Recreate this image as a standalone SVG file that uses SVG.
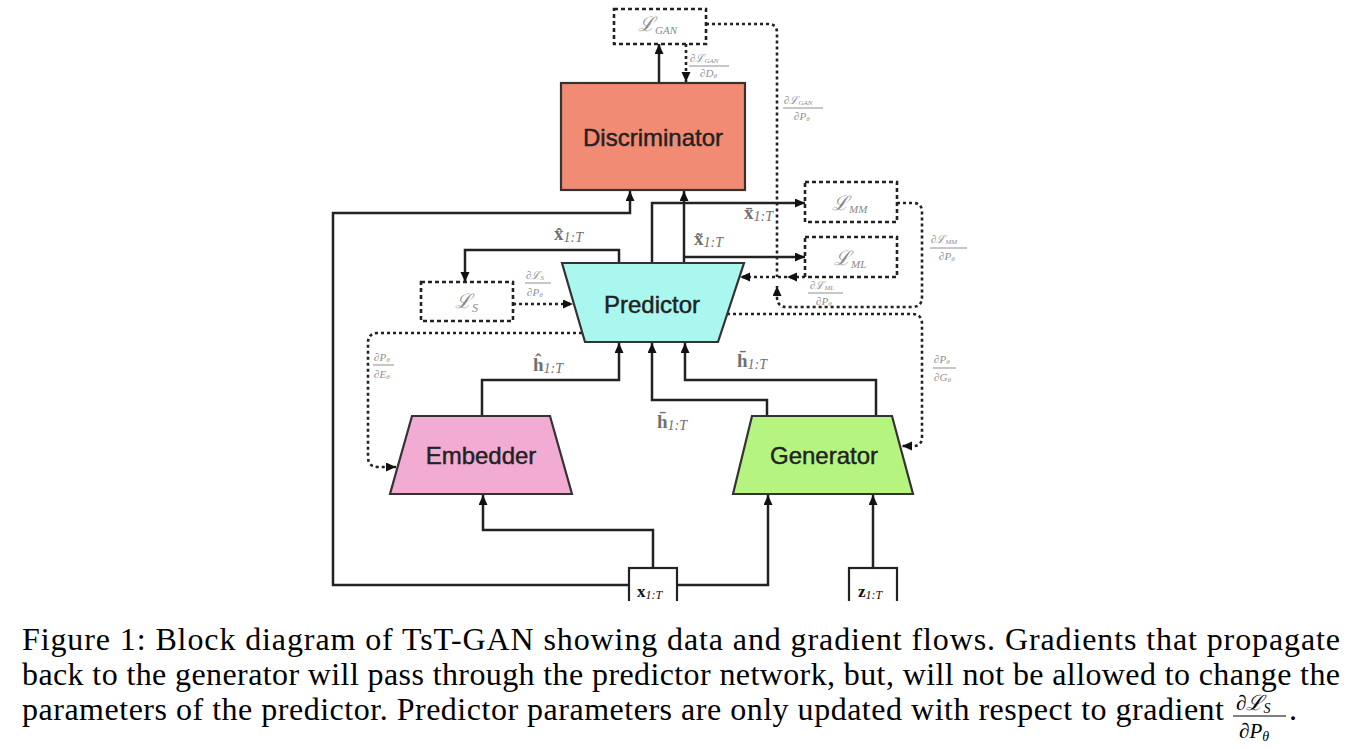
<svg xmlns="http://www.w3.org/2000/svg" width="1359" height="749" viewBox="0 0 1359 749">
<style>
.node{stroke:#333;stroke-width:2.2}
.nt{font-family:"Liberation Sans",Arial,sans-serif;font-size:24px;fill:#222;stroke:#222;stroke-width:0.45;text-anchor:middle}
.ln{fill:none;stroke:#222;stroke-width:2.5}
.dt{fill:none;stroke:#222;stroke-width:2.6;stroke-dasharray:3 3}
.db{fill:#fff;stroke:#222;stroke-width:2.6;stroke-dasharray:4 3}
.lt{font-family:"Liberation Serif","DejaVu Serif",serif;fill:#8a8a8a;font-style:italic}
.lbl{font-family:"Liberation Serif","DejaVu Serif",serif;fill:#707070;font-size:19px}
.fr{font-family:"Liberation Serif","DejaVu Serif",serif;fill:#8f8f8f;font-style:italic;font-size:11px}
.bar{stroke:#8f8f8f;stroke-width:1}
.cap{font-family:"Liberation Serif","Times New Roman",serif;font-size:32px;fill:#000}
.capm{font-family:"Liberation Serif","DejaVu Serif",serif;fill:#000}
</style>
<defs>
<marker id="ah" markerUnits="userSpaceOnUse" markerWidth="12" markerHeight="10" refX="10" refY="4.5" orient="auto">
<path d="M0,0 L10,4.5 L0,9 z" fill="#111"/>
</marker>
</defs>
<rect width="1359" height="749" fill="#fff"/>

<g id="connectors">
<path class="ln" d="M629,585 H333 V213 H630 V191" marker-end="url(#ah)"/>
<path class="ln" d="M677,585 H768 V495" marker-end="url(#ah)"/>
<path class="ln" d="M653,568 V530 H483 V495" marker-end="url(#ah)"/>
<path class="ln" d="M873,568 V495" marker-end="url(#ah)"/>
<path class="ln" d="M482,416 V380 H619 V343" marker-end="url(#ah)"/>
<path class="ln" d="M767,416 V400 H652 V343" marker-end="url(#ah)"/>
<path class="ln" d="M876,416 V380 H685 V343" marker-end="url(#ah)"/>
<path class="ln" d="M619,263 V250 H465 V282" marker-end="url(#ah)"/>
<path class="ln" d="M652,263 V203 H805" marker-end="url(#ah)"/>
<path class="ln" d="M684,263 V191" marker-end="url(#ah)"/>
<path class="ln" d="M684,257 H805" marker-end="url(#ah)"/>
<path class="ln" d="M659,83 V44" marker-end="url(#ah)"/>
<path class="dt" d="M686,44 V82" marker-end="url(#ah)"/>
<path class="dt" d="M706,24 H768 Q777,24 777,33 V277"/>
<path class="dt" d="M805,277 H787" marker-end="url(#ah)"/>
<path class="dt" d="M787,277 H740" marker-end="url(#ah)"/>
<path class="dt" d="M897,203 H913 Q922,203 922,212 V297 Q922,307 912,307 H787 Q777,307 777,297 V286" marker-end="url(#ah)"/>
<path class="dt" d="M727,314 H912 Q922,314 922,324 V437 Q922,446 913,446 H902" marker-end="url(#ah)"/>
<path class="dt" d="M582,333 H378 Q368,333 368,343 V457 Q368,467 378,467 H396" marker-end="url(#ah)"/>
<path class="dt" d="M513,304 H573" marker-end="url(#ah)"/>
</g>

<g id="discriminator">
<rect class="node" x="561" y="83" width="184" height="107" fill="#F28B73"/>
<text class="nt" x="653" y="146">Discriminator</text>
</g>
<g id="predictor">
<polygon class="node" points="562,263 744,263 718,342 585,342" fill="#A9F7EE"/>
<text class="nt" x="652" y="313">Predictor</text>
</g>
<g id="embedder">
<polygon class="node" points="412,416 550,416 572,494 390,494" fill="#F2ABD3"/>
<text class="nt" x="481" y="464">Embedder</text>
</g>
<g id="generator">
<polygon class="node" points="752,416 892,416 913,494 733,494" fill="#B5F57F"/>
<text class="nt" x="824" y="464">Generator</text>
</g>

<g id="loss_gan">
<rect class="db" x="614" y="9" width="92" height="35"/>
<text class="lt" x="638" y="31" font-size="20">ℒ<tspan font-size="11" dy="3">GAN</tspan></text>
</g>
<g id="loss_s">
<rect class="db" x="421" y="282" width="92" height="39"/>
<text class="lt" x="455" y="308" font-size="20">ℒ<tspan font-size="12" dy="4">S</tspan></text>
</g>
<g id="loss_mm">
<rect class="db" x="805" y="182" width="92" height="40"/>
<text class="lt" x="832" y="210" font-size="20">ℒ<tspan font-size="11" dy="3">MM</tspan></text>
</g>
<g id="loss_ml">
<rect class="db" x="805" y="237" width="92" height="40"/>
<text class="lt" x="834" y="265" font-size="20">ℒ<tspan font-size="11" dy="3">ML</tspan></text>
</g>

<g id="input_x">
<rect x="629" y="568" width="48" height="40" fill="#fff" stroke="#222" stroke-width="2.2"/>
<text x="637" y="597" font-family="Liberation Serif,serif" font-size="17" fill="#111"><tspan font-weight="bold">x</tspan><tspan font-size="12" font-style="italic" dy="2">1:T</tspan></text>
</g>
<g id="input_z">
<rect x="849" y="568" width="48" height="40" fill="#fff" stroke="#222" stroke-width="2.2"/>
<text x="858" y="597" font-family="Liberation Serif,serif" font-size="17" fill="#111"><tspan font-weight="bold">z</tspan><tspan font-size="12" font-style="italic" dy="2">1:T</tspan></text>
</g>
<rect x="0" y="601" width="1359" height="16" fill="#fff"/>

<g id="edge_labels">
<text class="lbl" x="554" y="240"><tspan font-weight="bold">x̂</tspan><tspan font-size="14" font-style="italic" dy="2">1:T</tspan></text>
<text class="lbl" x="694" y="245"><tspan font-weight="bold">x̃</tspan><tspan font-size="14" font-style="italic" dy="2">1:T</tspan></text>
<text class="lbl" x="744" y="219"><tspan font-weight="bold">x̄</tspan><tspan font-size="14" font-style="italic" dy="2">1:T</tspan></text>
<text class="lbl" x="533" y="371"><tspan font-weight="bold">ĥ</tspan><tspan font-size="14" font-style="italic" dy="2">1:T</tspan></text>
<text class="lbl" x="737" y="367"><tspan font-weight="bold">h̄</tspan><tspan font-size="14" font-style="italic" dy="2">1:T</tspan></text>
<text class="lbl" x="657" y="428"><tspan font-weight="bold">h̄</tspan><tspan font-size="14" font-style="italic" dy="2">1:T</tspan></text>

<text class="fr" x="690" y="62">∂ℒ<tspan font-size="7" dy="1">GAN</tspan></text>
<line class="bar" x1="689" y1="66" x2="729" y2="66"/>
<text class="fr" x="700" y="77">∂D<tspan font-size="7" dy="1">θ</tspan></text>

<text class="fr" x="784" y="104">∂ℒ<tspan font-size="7" dy="1">GAN</tspan></text>
<line class="bar" x1="783" y1="108" x2="823" y2="108"/>
<text class="fr" x="794" y="120">∂P<tspan font-size="7" dy="1">θ</tspan></text>

<text class="fr" x="931" y="243">∂ℒ<tspan font-size="7" dy="1">MM</tspan></text>
<line class="bar" x1="930" y1="248" x2="967" y2="248"/>
<text class="fr" x="939" y="260">∂P<tspan font-size="7" dy="1">θ</tspan></text>

<text class="fr" x="810" y="289">∂ℒ<tspan font-size="7" dy="1">ML</tspan></text>
<line class="bar" x1="808" y1="293" x2="843" y2="293"/>
<text class="fr" x="816" y="305">∂P<tspan font-size="7" dy="1">θ</tspan></text>

<text class="fr" x="526" y="279">∂ℒ<tspan font-size="7" dy="1">S</tspan></text>
<line class="bar" x1="525" y1="283" x2="551" y2="283"/>
<text class="fr" x="527" y="296">∂P<tspan font-size="7" dy="1">θ</tspan></text>

<text class="fr" x="374" y="361">∂P<tspan font-size="7" dy="1">θ</tspan></text>
<line class="bar" x1="373" y1="365" x2="394" y2="365"/>
<text class="fr" x="374" y="378">∂E<tspan font-size="7" dy="1">θ</tspan></text>

<text class="fr" x="934" y="363">∂P<tspan font-size="7" dy="1">θ</tspan></text>
<line class="bar" x1="933" y1="368" x2="956" y2="368"/>
<text class="fr" x="934" y="381">∂G<tspan font-size="7" dy="1">θ</tspan></text>
</g>

<g id="caption">
<text class="cap" x="22" y="650" textLength="1318" lengthAdjust="spacing">Figure 1: Block diagram of TsT-GAN showing data and gradient flows. Gradients that propagate</text>
<text class="cap" x="22" y="685" textLength="1318" lengthAdjust="spacing">back to the generator will pass through the predictor network, but, will not be allowed to change the</text>
<text class="cap" x="22" y="720" textLength="1202" lengthAdjust="spacing">parameters of the predictor. Predictor parameters are only updated with respect to gradient</text>
<text class="capm" x="1236" y="710" font-size="21">∂<tspan font-style="italic">ℒ</tspan><tspan font-size="14" font-style="italic" dy="3">S</tspan></text>
<line x1="1233" y1="716" x2="1286" y2="716" stroke="#000" stroke-width="1.2"/>
<text class="capm" x="1239" y="738" font-size="21">∂<tspan font-style="italic">P</tspan><tspan font-size="14" font-style="italic" dy="3">θ</tspan></text>
<text class="cap" x="1289" y="720">.</text>
</g>
</svg>
